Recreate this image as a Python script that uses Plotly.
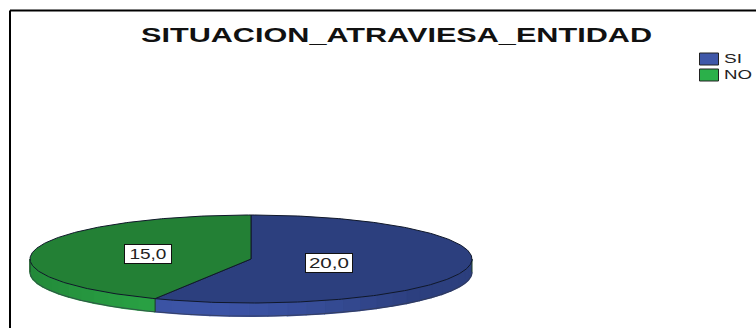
import json
import numpy as np
import plotly.graph_objects as go

title = "SITUACION_ATRAVIESA_ENTIDAD"
categories = ["SI", "NO"]
values = [20.0, 15.0]
top_colors = ["#2c3f7e", "#238035"]
side_dark = ["#2c3f7e", "#1f7a33"]
side_light = ["#3c54a6", "#2aa545"]
legend_colors = ["#3f57a8", "#2bb04a"]
label_radius = [0.362, 0.48]

DEPTH = 0.30  # side wall height in data units
FONT = "Liberation Sans"
fig = go.Figure()

def mix(a, b, t):
    ca = [int(a[i:i + 2], 16) for i in (1, 3, 5)]
    cb = [int(b[i:i + 2], 16) for i in (1, 3, 5)]
    return "#%02x%02x%02x" % tuple(round(p + (q - p) * t) for p, q in zip(ca, cb))

def label(v):
    return f"{v:.1f}".replace(".", ",")

total = sum(values)
start = 0.0
wedges = []
for v in values:
    end = start + v / total * 2 * np.pi
    wedges.append((start, end))
    start = end

# side walls
for i, (a, b) in enumerate(wedges):
    lo, hi = max(a, np.pi / 2), min(b, 3 * np.pi / 2)
    if hi <= lo:
        continue
    edges = np.linspace(lo, hi, int((hi - lo) / 0.09) + 2)
    for e0, e1 in zip(edges[:-1], edges[1:]):
        t = np.linspace(e0, e1, 4)
        x = np.sin(t)
        y = np.cos(t)
        px = np.r_[x, x[::-1]]
        py = np.r_[y, y[::-1] - DEPTH]
        shade = max(0.0, 1 - abs(np.sin((e0 + e1) / 2) + 0.25) ** 1.5)
        col = mix(side_dark[i], side_light[i], shade)
        fig.add_trace(go.Scatter(x=px, y=py, fill="toself", mode="lines", fillcolor=col,
                                 line=dict(color=col, width=1.5), showlegend=False, hoverinfo="skip"))

# outline of wall
t = np.linspace(np.pi / 2, 3 * np.pi / 2, 200)
fig.add_trace(go.Scatter(x=np.sin(t), y=np.cos(t) - DEPTH, mode="lines",
                         line=dict(color="#33384a", width=0.7), showlegend=False, hoverinfo="skip"))
for ang in (np.pi / 2, 3 * np.pi / 2, wedges[0][1]):
    fig.add_trace(go.Scatter(x=[np.sin(ang)] * 2, y=[np.cos(ang), np.cos(ang) - DEPTH], mode="lines",
                             line=dict(color="#1a3a22", width=1), showlegend=False, hoverinfo="skip"))

# top faces
for i, (a, b) in enumerate(wedges):
    t = np.linspace(a, b, 240)
    fig.add_trace(go.Scatter(x=np.r_[0, np.sin(t), 0], y=np.r_[0, np.cos(t), 0], fill="toself",
                             mode="lines", fillcolor=top_colors[i],
                             line=dict(color="#10182a", width=1), showlegend=False, hoverinfo="skip"))
    mid = (a + b) / 2
    fig.add_annotation(x=label_radius[i] * np.sin(mid), y=label_radius[i] * np.cos(mid),
                       text=label(values[i]), showarrow=False, width=44, height=16,
                       xanchor="center", yanchor="middle",
                       font=dict(family=FONT, size=14, color="#222"),
                       bgcolor="white", bordercolor="#111", borderwidth=1, borderpad=1)

# legend (swatches + text)
legend_text_w = {"SI": 18, "NO": 28}
for i, c in enumerate(categories):
    yp = 1 - (59 + 16 * i) / 328
    fig.add_shape(type="rect", xref="paper", yref="paper", x0=699.5 / 756, x1=718.5 / 756,
                  y0=yp - 6 / 328, y1=yp + 6 / 328, fillcolor=legend_colors[i],
                  line=dict(color="#222", width=1))
    fig.add_annotation(xref="paper", yref="paper", x=724 / 756, y=yp + 0.5 / 328, xanchor="left", yanchor="middle",
                       showarrow=False, width=legend_text_w[c], align="center",
                       text=c, font=dict(family=FONT, size=13.5, color="#222"),
                       borderpad=0, borderwidth=0)

# frame
fig.add_shape(type="line", xref="paper", yref="paper", x0=10 / 756, x1=1, y0=1 - 10.5 / 328, y1=1 - 10.5 / 328,
              line=dict(color="black", width=2))
fig.add_shape(type="line", xref="paper", yref="paper", x0=10 / 756, x1=10 / 756, y0=0, y1=1 - 10.5 / 328,
              line=dict(color="black", width=2))

fig.update_layout(
    width=756, height=328, margin=dict(l=0, r=0, t=0, b=0),
    paper_bgcolor="white", plot_bgcolor="white", showlegend=False,
    title=dict(text=title, x=396.5 / 756, xanchor="center", y=1 - 35 / 328, yanchor="middle",
               font=dict(family=FONT, size=21, color="#111", weight="bold")),
    xaxis=dict(visible=False, range=[-251 / 221, 505 / 221], fixedrange=True),
    yaxis=dict(visible=False, range=[-69 / 44, 259 / 44], fixedrange=True),
)

# the reference's text is horizontally stretched: widen glyphs to the measured widths
text_widths = {title: 511, label(values[0]): 40, label(values[1]): 37, **legend_text_w}
post = ("document.body.style.margin='0';document.body.style.overflow='hidden';"
        "var W=" + json.dumps(text_widths) + ";"
        "document.querySelectorAll('svg text').forEach(function(t){var w=W[t.textContent];"
        "if(w){t.setAttribute('textLength',w);t.setAttribute('lengthAdjust','spacingAndGlyphs');}});")
fig.write_html("out.html", post_script=post, config={"displayModeBar": False})
